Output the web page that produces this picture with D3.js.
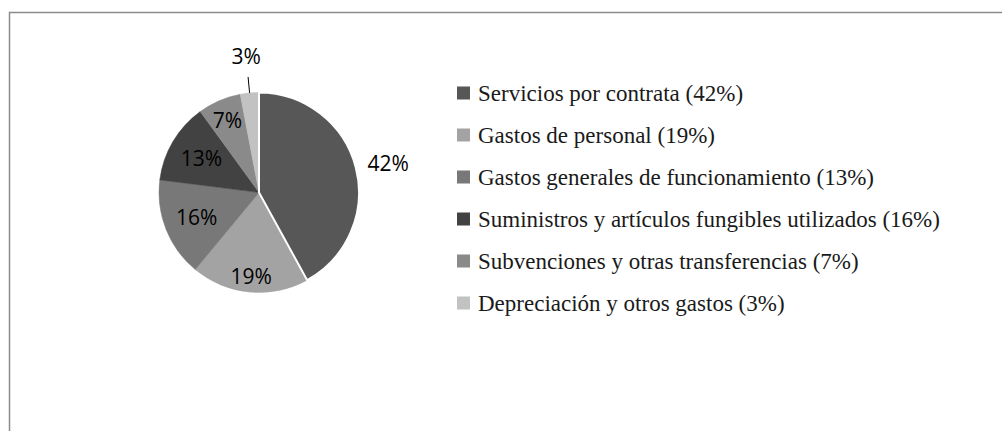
<!DOCTYPE html>
<html>
<head>
<meta charset="utf-8">
<script src="https://cdn.jsdelivr.net/npm/d3@7"></script>
<style>
  body { margin: 0; background: #fff; }
  svg { display: block; }
</style>
</head>
<body>
<div id="chart"></div>
<script>
// slice values in drawing order (clockwise from 12 o'clock)
var values = [42, 19, 16, 13, 7, 3];
var legendLabels = [
    "Servicios por contrata (42%)",
    "Gastos de personal (19%)",
    "Gastos generales de funcionamiento (13%)",
    "Suministros y artículos fungibles utilizados (16%)",
    "Subvenciones y otras transferencias (7%)",
    "Depreciación y otros gastos (3%)"
];
var greys = ["#575757", "#a3a3a3", "#787878", "#424242", "#8a8a8a", "#c2c2c2"];

function drawPie(){
    var width = 1002, height = 431;
    var cx = 259, cy = 192.5, radius = 100;

    var svg = d3.select("#chart")
        .append("svg")
        .attr("width", width)
        .attr("height", height);

    // chart area frame
    svg.append("rect")
        .attr("x", 9.5)
        .attr("y", 12.5)
        .attr("width", width + 20)
        .attr("height", height + 20)
        .attr("fill", "none")
        .attr("stroke", "#8c8c8c")
        .attr("stroke-width", 1.5);

    var color = d3.scaleOrdinal()
        .domain(d3.range(values.length))
        .range(greys);

    var pie = d3.pie().sort(null).value(function(d){ return d; });
    var arcs = pie(values);
    var arc = d3.arc().innerRadius(0).outerRadius(radius);

    var g = svg.append("g")
        .attr("transform", "translate(" + cx + "," + cy + ")");

    g.selectAll("path.slice")
        .data(arcs)
        .enter()
        .append("path")
        .attr("class", "slice")
        .attr("d", arc)
        .attr("fill", function(d, i){ return color(i); })
        .attr("stroke", function(d, i){ return color(i); })
        .attr("stroke-width", 0.5);

    // white edge around the biggest slice
    var maxVal = d3.max(values);
    g.selectAll("path.edge")
        .data(arcs.filter(function(d){ return d.value === maxVal; }))
        .enter()
        .append("path")
        .attr("class", "edge")
        .attr("d", arc)
        .attr("fill", "none")
        .attr("stroke", "#fff")
        .attr("stroke-width", 2);

    function dir(d){
        var a = (d.startAngle + d.endAngle) / 2;
        return [Math.sin(a), -Math.cos(a)];
    }

    // leader lines for the small slices
    g.selectAll("line.leader")
        .data(arcs.filter(function(d){ return d.value < 5; }))
        .enter()
        .append("line")
        .attr("class", "leader")
        .attr("x1", function(d){ return dir(d)[0] * radius; })
        .attr("y1", function(d){ return dir(d)[1] * radius; })
        .attr("x2", function(d){ return dir(d)[0] * radius * 1.16; })
        .attr("y2", function(d){ return dir(d)[1] * radius * 1.16; })
        .attr("stroke", "#000")
        .attr("stroke-width", 1);

    var labels = g.selectAll("text.lbl")
        .data(arcs)
        .enter()
        .append("text")
        .attr("class", "lbl")
        .text(function(d){ return d.value + "%"; })
        .style("font-family", "'Open Sans', sans-serif")
        .style("font-size", "21px")
        .attr("fill", "#000")
        .attr("dominant-baseline", "central");

    labels.each(function(d){
        var t = d3.select(this);
        var w = this.getComputedTextLength(), h = 21;
        var u = dir(d);
        if (d.value < 5) {
            t.attr("text-anchor", "middle")
                .attr("x", u[0] * radius * 1.37)
                .attr("y", u[1] * radius * 1.37);
        } else if (d.value === maxVal) {
            t.attr("text-anchor", u[0] >= 0 ? "start" : "end")
                .attr("x", u[0] * radius * 1.12)
                .attr("y", u[1] * radius * 1.12 - 2);
        } else {
            // push the label outwards while its box still fits in the pie
            var r = radius - 1.6 * (w / 2 * Math.abs(u[0]) + h / 2 * Math.abs(u[1])) + 4;
            t.attr("text-anchor", "middle")
                .attr("x", u[0] * r)
                .attr("y", u[1] * r);
        }
    });

    // legend
    var y = d3.scaleLinear()
        .domain([0, legendLabels.length - 1])
        .range([93, 303]);
    var size = 13;

    var legend = svg.append("g").attr("class", "legend");

    legend.selectAll("rect")
        .data(legendLabels)
        .enter()
        .append("rect")
        .attr("x", 457)
        .attr("y", function(d, i){ return y(i) - size / 2; })
        .attr("width", size)
        .attr("height", size)
        .attr("fill", function(d, i){ return color(i); });

    legend.selectAll("text")
        .data(legendLabels)
        .enter()
        .append("text")
        .text(function(d){ return d; })
        .attr("x", 478)
        .attr("y", function(d, i){ return y(i); })
        .attr("dominant-baseline", "central")
        .style("font-family", "'Liberation Serif', 'Times New Roman', serif")
        .style("font-size", "23px")
        .attr("fill", "#1a1a1a");
}

drawPie()
</script>
</body>
</html>
